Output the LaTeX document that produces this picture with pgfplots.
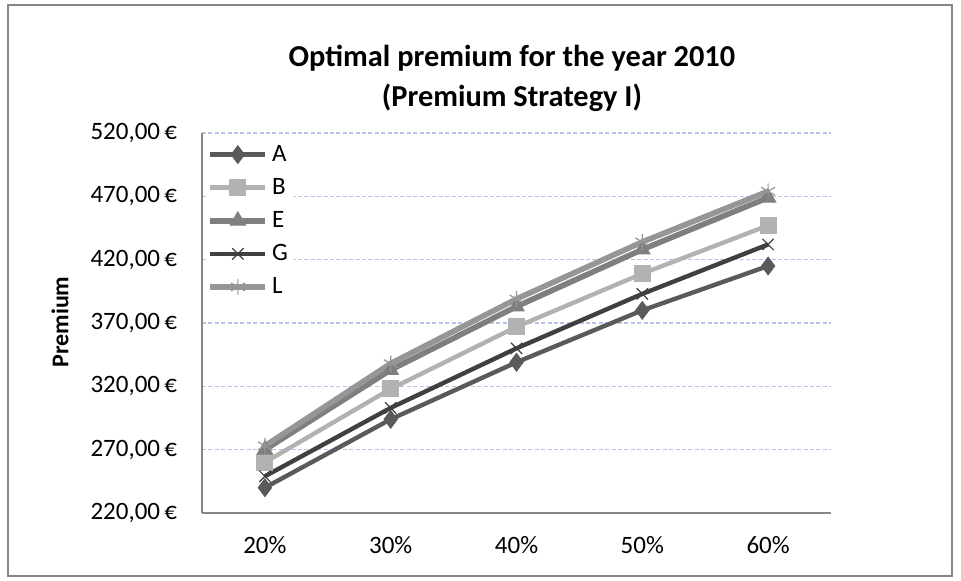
\documentclass[border=0pt]{standalone}
\usepackage{pgfplots}
\pgfplotsset{compat=1.18}
\usepackage{fontspec}
\setmainfont{Carlito}
\definecolor{cA}{HTML}{5A5A5A}
\definecolor{cB}{HTML}{B2B2B2}
\definecolor{cE}{HTML}{7F7F7F}
\definecolor{cG}{HTML}{404040}
\definecolor{cL}{HTML}{969696}
\definecolor{gridc}{HTML}{B4C4EA}
\definecolor{axc}{HTML}{868686}
\begin{document}
\begin{tikzpicture}
\path[use as bounding box] (0,0) rectangle (480.5pt,290pt);
\draw[axc,line width=0.75pt] (4pt,2pt) rectangle (476pt,287.5pt);
\node[font=\bfseries\fontsize{15.2}{20}\selectfont,align=center] at (256pt,251pt) {Optimal premium for the year 2010\\(Premium Strategy I)};
\node[font=\bfseries\fontsize{12}{14}\selectfont,rotate=90] at (30pt,129pt) {Premium};
\begin{axis}[
  at={(101pt,33.5pt)}, anchor=south west,
  width=314.5pt, height=190pt, scale only axis,
  xmin=-0.5, xmax=4.5, ymin=220, ymax=520,
  xtick={0,1,2,3,4}, xticklabels={20\%,30\%,40\%,50\%,60\%},
  ytick={220,270,...,520},
  yticklabel={\pgfmathprintnumber[fixed,fixed zerofill,precision=2,use comma,assume math mode=true]{\tick}\,€},
  /pgf/number format/assume math mode=true,
  ticklabel style={font=\fontsize{12.5}{14}\selectfont},
  xticklabel style={yshift=-8pt},
  yticklabel style={xshift=-9pt},
  major tick length=0pt,
  axis x line*=bottom, axis y line*=left,
  axis line style={axc,line width=0.8pt,-},
  ymajorgrids, major grid style={gridc,line width=0.6pt,dash pattern=on 2pt off 1.2pt},
  legend style={at={(0.005,0.985)},anchor=north west,draw=none,fill=white,inner sep=1pt,
    font=\fontsize{12.5}{14}\selectfont,row sep=3pt,legend cell align=left},
  legend image code/.code={\draw[mark repeat=2,mark phase=2] plot coordinates {(0pt,0pt)(13.75pt,0pt)(27.5pt,0pt)};},
]
\addplot[cA,line width=2.2pt,mark=diamond*,mark size=4.4pt,mark options={solid,fill=cA,line width=0.5pt}] coordinates {(0,240)(1,294)(2,339)(3,380)(4,415)};
\addlegendentry{A}
\addplot[cB,line width=2.2pt,mark=square*,mark size=4pt,mark options={solid,fill=cB,line width=0.5pt}] coordinates {(0,260)(1,318)(2,367)(3,409)(4,447)};
\addlegendentry{B}
\addplot[cE,line width=2.8pt,mark=triangle*,mark size=4.4pt,mark options={solid,fill=cE,line width=0.5pt}] coordinates {(0,270)(1,333)(2,383)(3,428)(4,469)};
\addlegendentry{E}
\addplot[cG,line width=2.2pt,mark=x,mark size=4pt,mark options={solid,line width=0.6pt}] coordinates {(0,249)(1,303)(2,350)(3,393)(4,432)};
\addlegendentry{G}
\addplot[cL,line width=2.8pt,mark=asterisk,mark size=4pt,mark options={solid,line width=0.6pt}] coordinates {(0,273)(1,338)(2,389)(3,434)(4,474)};
\addlegendentry{L}
\end{axis}
\end{tikzpicture}
\end{document}
